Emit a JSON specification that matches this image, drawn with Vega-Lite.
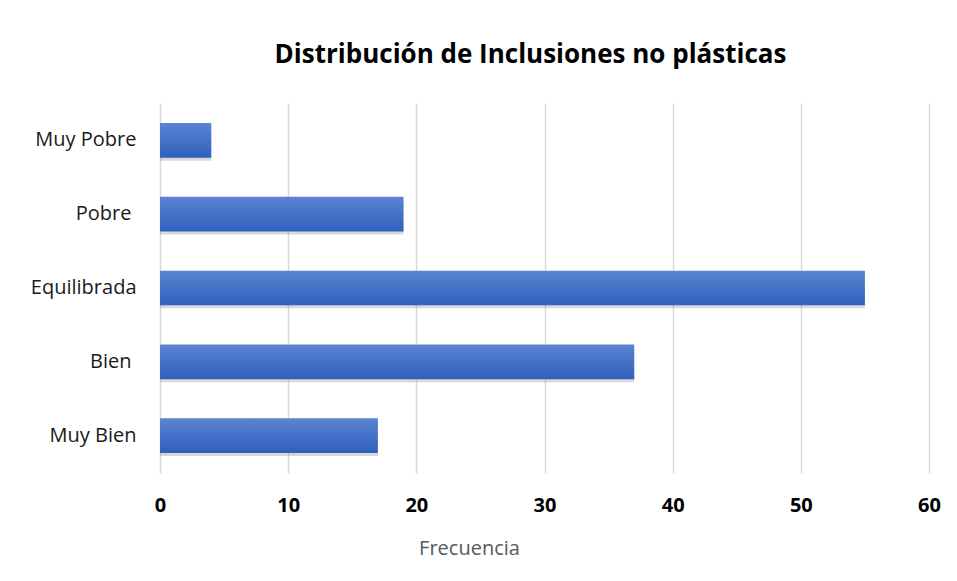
{
  "$schema": "https://vega.github.io/schema/vega-lite/v6.json",
  "width": 769,
  "height": 370,
  "autosize": "none",
  "padding": {"left": 160, "top": 103, "right": 28, "bottom": 108},
  "background": "white",
  "title": {
    "text": "Distribución de Inclusiones no plásticas",
    "font": "Open Sans",
    "fontSize": 26,
    "fontWeight": "bold",
    "color": "#000000",
    "anchor": "middle",
    "dx": -14,
    "offset": 35
  },
  "data": {
    "values": [
      {"categoria": "Muy Pobre", "frecuencia": 4},
      {"categoria": "Pobre", "frecuencia": 19},
      {"categoria": "Equilibrada", "frecuencia": 55},
      {"categoria": "Bien", "frecuencia": 37},
      {"categoria": "Muy Bien", "frecuencia": 17}
    ]
  },
  "encoding": {
    "y": {
      "field": "categoria",
      "type": "nominal",
      "sort": null,
      "scale": {"paddingInner": 0.53, "paddingOuter": 0.27},
      "axis": {
        "title": null,
        "domain": false,
        "ticks": false,
        "labelPadding": {
          "condition": {"test": "datum.value === 'Pobre' || datum.value === 'Bien'", "value": 29},
          "value": 24
        },
        "labelFont": "Open Sans",
        "labelFontSize": 20,
        "labelColor": "#1a1a1a"
      }
    },
    "x": {
      "field": "frecuencia",
      "type": "quantitative",
      "scale": {"domain": [0, 60], "nice": false},
      "axis": {
        "values": [0, 10, 20, 30, 40, 50, 60],
        "title": "Frecuencia",
        "titleFont": "Open Sans",
        "titleFontSize": 20,
        "titleFontWeight": "normal",
        "titleColor": "#595959",
        "titleX": 309,
        "titlePadding": 23,
        "domain": false,
        "ticks": false,
        "grid": true,
        "gridColor": "#d9d9d9",
        "gridWidth": 1.5,
        "labelFlush": false,
        "labelPadding": 22,
        "labelFont": "Open Sans",
        "labelFontSize": 20,
        "labelFontWeight": "bold",
        "labelColor": "#000000"
      }
    }
  },
  "layer": [
    {
      "mark": {"type": "bar", "color": "#7f7f7f", "opacity": 0.3, "yOffset": 3},
      "encoding": {}
    },
    {
      "mark": {
        "type": "bar",
        "color": {
          "gradient": "linear",
          "x1": 0, "y1": 0, "x2": 0, "y2": 1,
          "stops": [
            {"offset": 0, "color": "#5b84d1"},
            {"offset": 1, "color": "#2f60bd"}
          ]
        }
      },
      "encoding": {}
    }
  ],
  "config": {"view": {"stroke": null}}
}
